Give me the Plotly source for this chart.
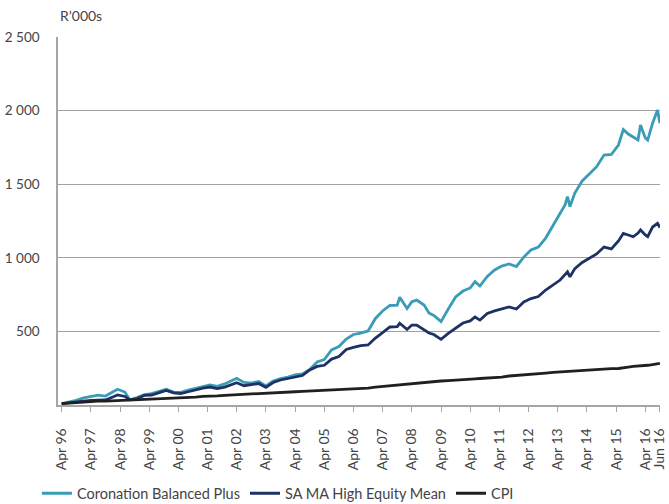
import plotly.graph_objects as go

dates = [
    "1996-04", "1996-07", "1996-10", "1997-01", "1997-04", "1997-07", "1997-10",
    "1998-01", "1998-03", "1998-06", "1998-08", "1998-11", "1999-02", "1999-05",
    "1999-08", "1999-11", "2000-02", "2000-05", "2000-08", "2000-11", "2001-02",
    "2001-05", "2001-08", "2001-11", "2002-02", "2002-04", "2002-07", "2002-10",
    "2003-01", "2003-04", "2003-07", "2003-10", "2004-01", "2004-04", "2004-07",
    "2004-10", "2005-01", "2005-04", "2005-07", "2005-10", "2006-01", "2006-04",
    "2006-07", "2006-10", "2007-01", "2007-04", "2007-07", "2007-10", "2007-11",
    "2008-02", "2008-04", "2008-06", "2008-09", "2008-11", "2009-01", "2009-04",
    "2009-07", "2009-10", "2010-01", "2010-04", "2010-06", "2010-08", "2010-11",
    "2011-02", "2011-05", "2011-08", "2011-11", "2012-02", "2012-05", "2012-08",
    "2012-11", "2013-02", "2013-05", "2013-07", "2013-08", "2013-09", "2013-11",
    "2014-02", "2014-05", "2014-08", "2014-11", "2015-02", "2015-05", "2015-07",
    "2015-09", "2015-11", "2016-01", "2016-02", "2016-04", "2016-05", "2016-07",
    "2016-09", "2016-10",
]

coronation = [
    10, 20, 31, 48, 58, 67, 61,
    92, 107, 88, 35, 51, 71, 78,
    92, 107, 88, 86, 102, 115, 126,
    136, 126, 143, 166, 181, 153, 149,
    160, 129, 163, 180, 190, 204, 211,
    241, 292, 309, 374, 397, 448, 479,
    489, 503, 588, 639, 676, 679, 732,
    655, 702, 713, 679, 625, 608, 566,
    652, 734, 774, 795, 838, 808, 873,
    917, 944, 958, 941, 1005, 1053, 1073,
    1134, 1216, 1304, 1359, 1415, 1348, 1440,
    1522, 1569, 1619, 1698, 1702, 1766, 1871,
    1841, 1823, 1800, 1902, 1814, 1800, 1914,
    2004, 1914,
]

sa_ma_high_equity = [
    10, 17, 25, 27, 31, 32, 34,
    54, 68, 58, 35, 44, 65, 68,
    82, 99, 82, 78, 90, 105, 115,
    122, 112, 122, 143, 151, 131, 139,
    146, 120, 153, 170, 181, 190, 200,
    238, 262, 270, 312, 329, 377, 391,
    404, 408, 455, 492, 530, 533, 555,
    513, 543, 543, 513, 489, 479, 446,
    486, 523, 557, 571, 598, 577, 622,
    639, 652, 666, 652, 700, 723, 737,
    781, 815, 849, 886, 905, 871, 927,
    968, 999, 1026, 1073, 1060, 1114, 1166,
    1155, 1143, 1168, 1189, 1155, 1143, 1209,
    1234, 1206,
]

cpi = [
    10, 14, 18, 22, 24, 26, 27,
    29, 30, 31, 33, 34, 37, 39,
    41, 44, 48, 50, 52, 54, 58,
    58, 62, 66, 68, 70, 73, 75,
    78, 82, 83, 85, 87, 90, 93,
    95, 98, 102, 104, 107, 109, 111,
    113, 115, 121, 126, 132, 137, 138,
    143, 145, 149, 156, 159, 161, 163,
    166, 168, 170, 175, 178, 180, 183,
    187, 190, 197, 202, 207, 211, 214,
    217, 221, 224, 228, 229, 231, 235,
    238, 241, 242, 245, 247, 248, 255,
    258, 262, 264, 265, 268, 270, 275,
    280, 283,
]

tick_dates = [f"{y}-04-01" for y in range(1996, 2017)] + ["2016-10-01"]
tick_text = [f"Apr {y % 100:02d}" for y in range(1996, 2017)] + ["Jun 16"]

series = [
    ("Coronation Balanced Plus", coronation, "#3a9cb6"),
    ("SA MA High Equity Mean", sa_ma_high_equity, "#1e3163"),
    ("CPI", cpi, "#231f20"),
]

text_colour = "#444444"
font = dict(family="Lato, 'Noto Sans', sans-serif", size=14, color=text_colour)

fig = go.Figure()
for name, values, colour in series:
    fig.add_trace(go.Scatter(
        x=dates, y=values, mode="lines", name=name,
        line=dict(color=colour, width=2.8),
    ))

fig.update_layout(
    width=669, height=504,
    margin=dict(l=58, r=9, t=37, b=99, autoexpand=False),
    paper_bgcolor="white", plot_bgcolor="white",
    font=font,
    separators=". ",
    showlegend=True,
    legend=dict(
        orientation="h", x=-0.035, xanchor="left", y=-0.24, yanchor="middle",
        font=dict(size=14.5, color=text_colour), itemwidth=30,
    ),
    annotations=[dict(
        text="R’000s", xref="paper", yref="paper", x=0, y=1.03,
        xanchor="left", yanchor="bottom", showarrow=False,
        font=dict(size=14, color=text_colour),
    )],
)

fig.update_xaxes(
    type="date", range=["1996-02-15", "2016-10-02"], automargin=False,
    tickvals=tick_dates, ticktext=tick_text, tickangle=-90,
    ticklabeloverflow="allow",
    showline=True, linecolor="#a6a6a6", linewidth=1.5,
    ticks="outside", ticklen=5, tickcolor="#a6a6a6", tickwidth=1.2,
    showgrid=False, zeroline=False, ticklabelstandoff=11,
    tickfont=dict(size=14, color=text_colour),
)
fig.update_yaxes(
    range=[0, 2500], tickvals=[500, 1000, 1500, 2000, 2500], tickformat=",d",
    automargin=False,
    showline=True, linecolor="#a6a6a6", linewidth=1.5,
    showgrid=True, gridcolor="#a0a0a0", gridwidth=1,
    zeroline=False, ticks="", ticklabelstandoff=14,
    tickfont=dict(size=13.5, color=text_colour),
)

# pin the figure to the window so the page is exactly the figure's size
pin_page = """
var css = document.createElement('style');
css.textContent = 'html,body{margin:0;padding:0;overflow:hidden;width:669px;height:504px;}'
    + '#{plot_id}{position:fixed;top:0;left:0;}';
document.head.appendChild(css);
"""

fig.write_html(
    "out.html",
    config={"displayModeBar": False},
    post_script=pin_page,
)
